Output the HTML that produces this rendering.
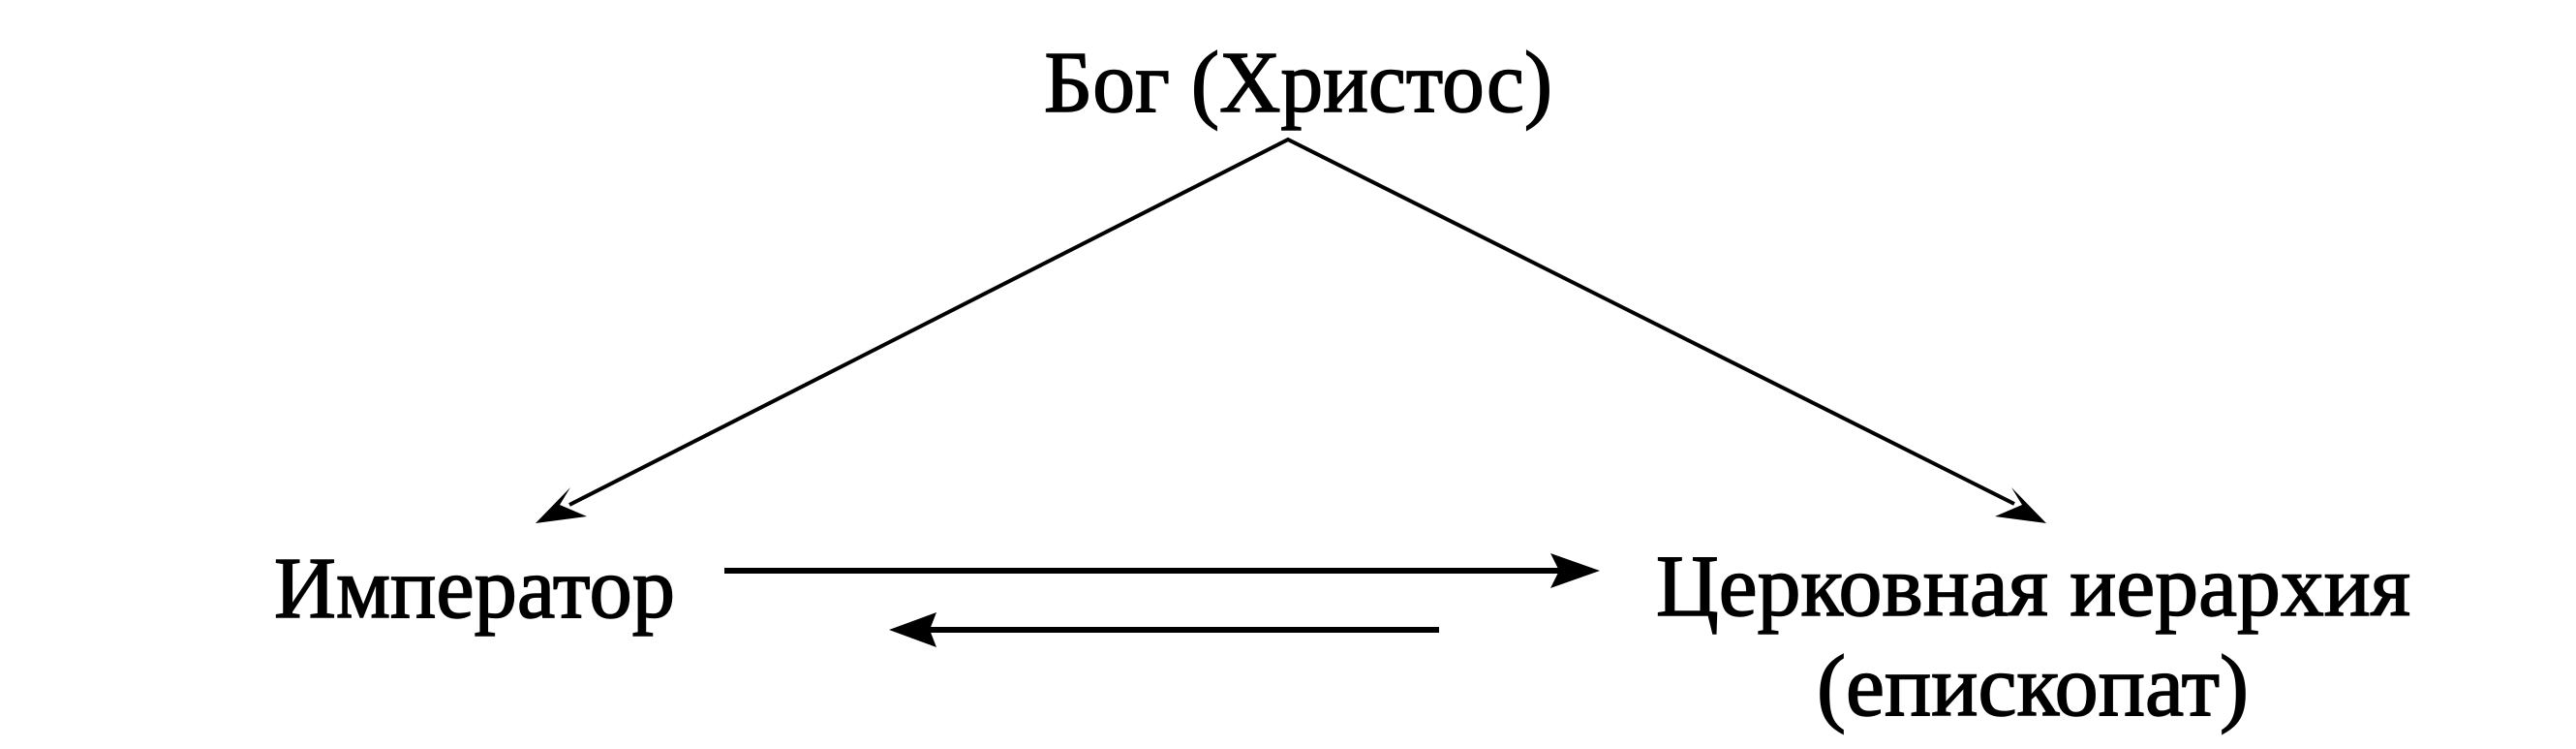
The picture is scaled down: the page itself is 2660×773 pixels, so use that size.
<!DOCTYPE html>
<html><head><meta charset="utf-8"><style>
html,body{margin:0;padding:0;background:#fff;}
svg{display:block;}
text{font-family:"Liberation Serif","DejaVu Serif",serif;font-size:90px;fill:#000;stroke:#000;stroke-width:1.5px;}
</style></head><body>
<svg width="2660" height="773" viewBox="0 0 2660 773" xmlns="http://www.w3.org/2000/svg">
<rect width="2660" height="773" fill="#fff"/>
<text x="1078" y="115" textLength="525" lengthAdjust="spacingAndGlyphs">Бог (Христос)</text>
<text x="283" y="637" textLength="414" lengthAdjust="spacingAndGlyphs">Император</text>
<text x="1710" y="635" textLength="779" lengthAdjust="spacingAndGlyphs">Церковная иерархия</text>
<text x="1876" y="738" textLength="446" lengthAdjust="spacingAndGlyphs">(епископат)</text>
<polyline points="588,521 1330,144 2080,520" fill="none" stroke="#000" stroke-width="4"/>
<polygon points="553,540 589,503 578,521 606,533" fill="#000"/>
<polygon points="2113,540 2077,503 2088,521 2060,533" fill="#000"/>
<line x1="748" y1="589" x2="1610" y2="589" stroke="#000" stroke-width="6"/>
<polygon points="1652,589 1601,571 1610,589 1601,607" fill="#000"/>
<line x1="960" y1="650" x2="1486" y2="650" stroke="#000" stroke-width="6"/>
<polygon points="918,650 967,632 960,650 967,668" fill="#000"/>
</svg>
</body></html>
